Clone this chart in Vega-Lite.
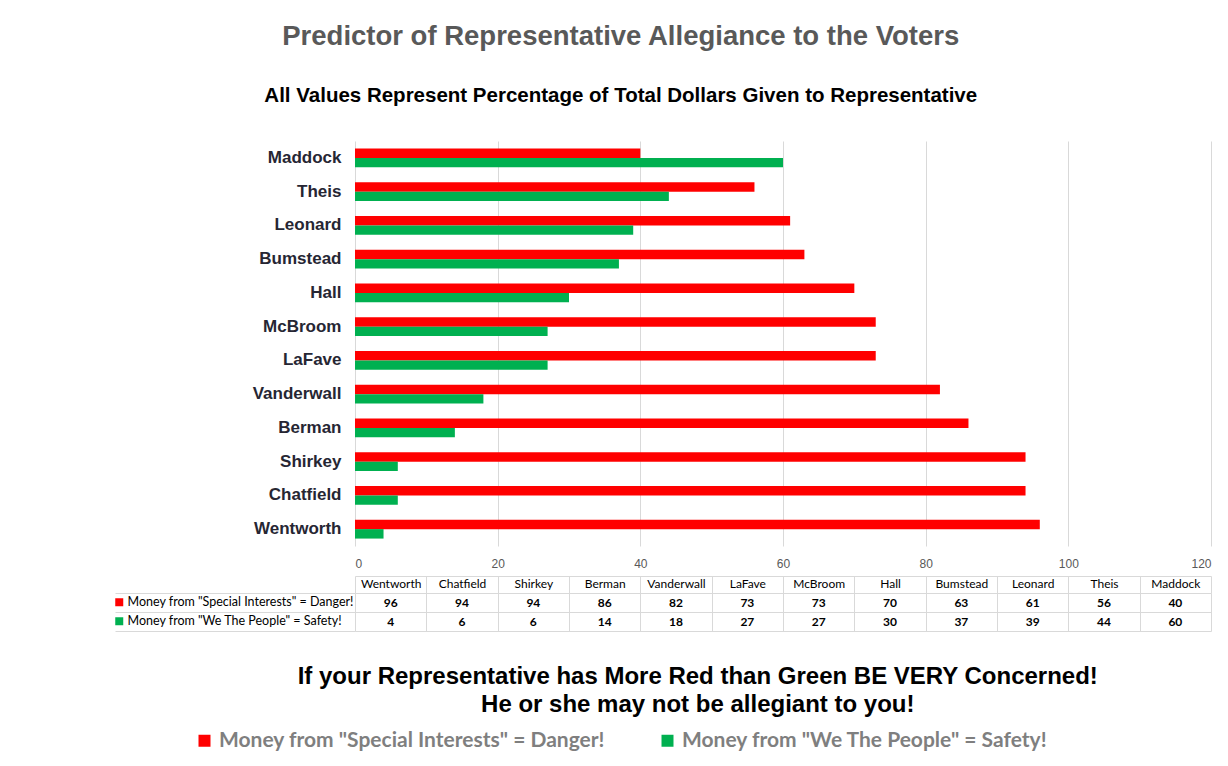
{
  "$schema": "https://vega.github.io/schema/vega-lite/v6.json",
  "background": "white",
  "padding": {"left": 110, "top": 23, "right": 5, "bottom": 5},
  "title": {
    "text": "Predictor of Representative  Allegiance to the Voters",
    "subtitle": "All Values Represent Percentage of Total Dollars Given to Representative",
    "anchor": "middle",
    "frame": "bounds",
    "dx": -40,
    "font": "Liberation Sans",
    "fontSize": 27.5,
    "fontWeight": "bold",
    "color": "#595959",
    "subtitleFont": "Liberation Sans",
    "subtitleFontSize": 20.5,
    "subtitleFontWeight": "bold",
    "subtitleColor": "#000000",
    "subtitlePadding": 35,
    "offset": 35
  },
  "config": {
    "view": {"stroke": null}
  },
  "datasets": {
    "d": [
      {"name": "Wentworth", "series": "Money from \"Special Interests\" = Danger!", "value": 96},
      {"name": "Wentworth", "series": "Money from \"We The People\" = Safety!", "value": 4},
      {"name": "Chatfield", "series": "Money from \"Special Interests\" = Danger!", "value": 94},
      {"name": "Chatfield", "series": "Money from \"We The People\" = Safety!", "value": 6},
      {"name": "Shirkey", "series": "Money from \"Special Interests\" = Danger!", "value": 94},
      {"name": "Shirkey", "series": "Money from \"We The People\" = Safety!", "value": 6},
      {"name": "Berman", "series": "Money from \"Special Interests\" = Danger!", "value": 86},
      {"name": "Berman", "series": "Money from \"We The People\" = Safety!", "value": 14},
      {"name": "Vanderwall", "series": "Money from \"Special Interests\" = Danger!", "value": 82},
      {"name": "Vanderwall", "series": "Money from \"We The People\" = Safety!", "value": 18},
      {"name": "LaFave", "series": "Money from \"Special Interests\" = Danger!", "value": 73},
      {"name": "LaFave", "series": "Money from \"We The People\" = Safety!", "value": 27},
      {"name": "McBroom", "series": "Money from \"Special Interests\" = Danger!", "value": 73},
      {"name": "McBroom", "series": "Money from \"We The People\" = Safety!", "value": 27},
      {"name": "Hall", "series": "Money from \"Special Interests\" = Danger!", "value": 70},
      {"name": "Hall", "series": "Money from \"We The People\" = Safety!", "value": 30},
      {"name": "Bumstead", "series": "Money from \"Special Interests\" = Danger!", "value": 63},
      {"name": "Bumstead", "series": "Money from \"We The People\" = Safety!", "value": 37},
      {"name": "Leonard", "series": "Money from \"Special Interests\" = Danger!", "value": 61},
      {"name": "Leonard", "series": "Money from \"We The People\" = Safety!", "value": 39},
      {"name": "Theis", "series": "Money from \"Special Interests\" = Danger!", "value": 56},
      {"name": "Theis", "series": "Money from \"We The People\" = Safety!", "value": 44},
      {"name": "Maddock", "series": "Money from \"Special Interests\" = Danger!", "value": 40},
      {"name": "Maddock", "series": "Money from \"We The People\" = Safety!", "value": 60}
    ]
  },
  "spacing": 6,
  "vconcat": [
    {
      "width": 856,
      "height": 405,
      "data": {"name": "d"},
      "mark": {"type": "bar"},
      "encoding": {
        "y": {
          "field": "name",
          "type": "nominal",
          "sort": ["Maddock", "Theis", "Leonard", "Bumstead", "Hall", "McBroom", "LaFave", "Vanderwall", "Berman", "Shirkey", "Chatfield", "Wentworth"],
          "scale": {"paddingInner": 0.44, "paddingOuter": 0.22},
          "axis": {
            "title": null,
            "ticks": false,
            "domain": false,
            "labelFont": "Liberation Sans",
            "labelFontSize": 17,
            "labelFontWeight": "bold",
            "labelColor": "#262633",
            "labelPadding": 14
          }
        },
        "x": {
          "field": "value",
          "type": "quantitative",
          "scale": {"domain": [0, 120]},
          "axis": {
            "title": null,
            "values": [0, 20, 40, 60, 80, 100, 120],
            "grid": true,
            "gridColor": "#d9d9d9",
            "domain": false,
            "ticks": false,
            "labelFont": "Liberation Sans",
            "labelFontSize": 12,
            "labelColor": "#595959",
            "labelPadding": 12
          }
        },
        "yOffset": {
          "field": "series",
          "sort": ["Money from \"Special Interests\" = Danger!", "Money from \"We The People\" = Safety!"]
        },
        "color": {
          "field": "series",
          "type": "nominal",
          "scale": {
            "domain": ["Money from \"Special Interests\" = Danger!", "Money from \"We The People\" = Safety!"],
            "range": ["#ff0000", "#00b050"]
          },
          "legend": {
            "orient": "none",
            "direction": "horizontal",
            "legendX": -161,
            "legendY": 589,
            "title": null,
            "symbolType": "square",
            "symbolSize": 144,
            "symbolStrokeWidth": 0,
            "labelFont": "Lato",
            "labelFontSize": 21,
            "labelFontWeight": "bold",
            "labelColor": "#7f7f7f",
            "labelLimit": 500,
            "columnPadding": 52
          }
        }
      }
    },
    {
      "width": 856,
      "height": 38,
      "data": {"name": "d"},
      "title": {
        "text": "If your Representative has More Red than Green BE VERY Concerned!",
        "subtitle": "He or she may not be allegiant to you!",
        "orient": "bottom",
        "anchor": "middle",
        "frame": "bounds",
        "dx": 37,
        "font": "Liberation Sans",
        "fontSize": 24,
        "fontWeight": "bold",
        "color": "#000000",
        "subtitleFont": "Liberation Sans",
        "subtitleFontSize": 24,
        "subtitleFontWeight": "bold",
        "subtitleColor": "#000000",
        "subtitlePadding": 4,
        "offset": 33
      },
      "encoding": {
        "x": {
          "field": "name",
          "type": "nominal",
          "sort": ["Wentworth", "Chatfield", "Shirkey", "Berman", "Vanderwall", "LaFave", "McBroom", "Hall", "Bumstead", "Leonard", "Theis", "Maddock"],
          "scale": {"paddingInner": 0, "paddingOuter": 0},
          "axis": {
            "title": null,
            "orient": "top",
            "offset": 17,
            "tickBand": "extent",
            "tickSize": -17,
            "tickColor": "#d9d9d9",
            "domainColor": "#d9d9d9",
            "grid": true,
            "gridColor": "#d9d9d9",
            "labelAngle": 0,
            "labelFont": "Lato",
            "labelFontSize": 12,
            "labelColor": "#000000",
            "labelPadding": 3
          }
        },
        "y": {
          "field": "series",
          "type": "nominal",
          "sort": ["Money from \"Special Interests\" = Danger!", "Money from \"We The People\" = Safety!"],
          "scale": {"paddingInner": 0, "paddingOuter": 0},
          "axis": {
            "title": null,
            "labels": false,
            "domain": false,
            "tickBand": "extent",
            "tickSize": 240,
            "tickColor": "#d9d9d9",
            "grid": true,
            "gridColor": "#d9d9d9"
          }
        }
      },
      "layer": [
        {
          "mark": {"type": "text", "font": "Lato", "fontSize": 12, "fontWeight": "bold", "color": "#000000"},
          "encoding": {"text": {"field": "value", "type": "quantitative"}}
        },
        {
          "mark": {"type": "square", "opacity": 0},
          "encoding": {
            "fill": {
              "field": "series",
              "type": "nominal",
              "scale": {
                "domain": ["Money from \"Special Interests\" = Danger!", "Money from \"We The People\" = Safety!"],
                "range": ["#ff0000", "#00b050"]
              },
              "legend": {
                "orient": "left",
                "title": null,
                "symbolType": "square",
                "symbolSize": 64,
                "symbolOpacity": 1,
                "symbolStrokeWidth": 0,
                "labelFont": "Lato",
                "labelFontSize": 12.5,
                "labelColor": "#000000",
                "labelLimit": 300,
                "labelOffset": 2,
                "rowPadding": 6,
                "padding": 3,
                "offset": -243
              }
            }
          }
        }
      ],
      "resolve": {"legend": {"fill": "independent"}}
    }
  ]
}
